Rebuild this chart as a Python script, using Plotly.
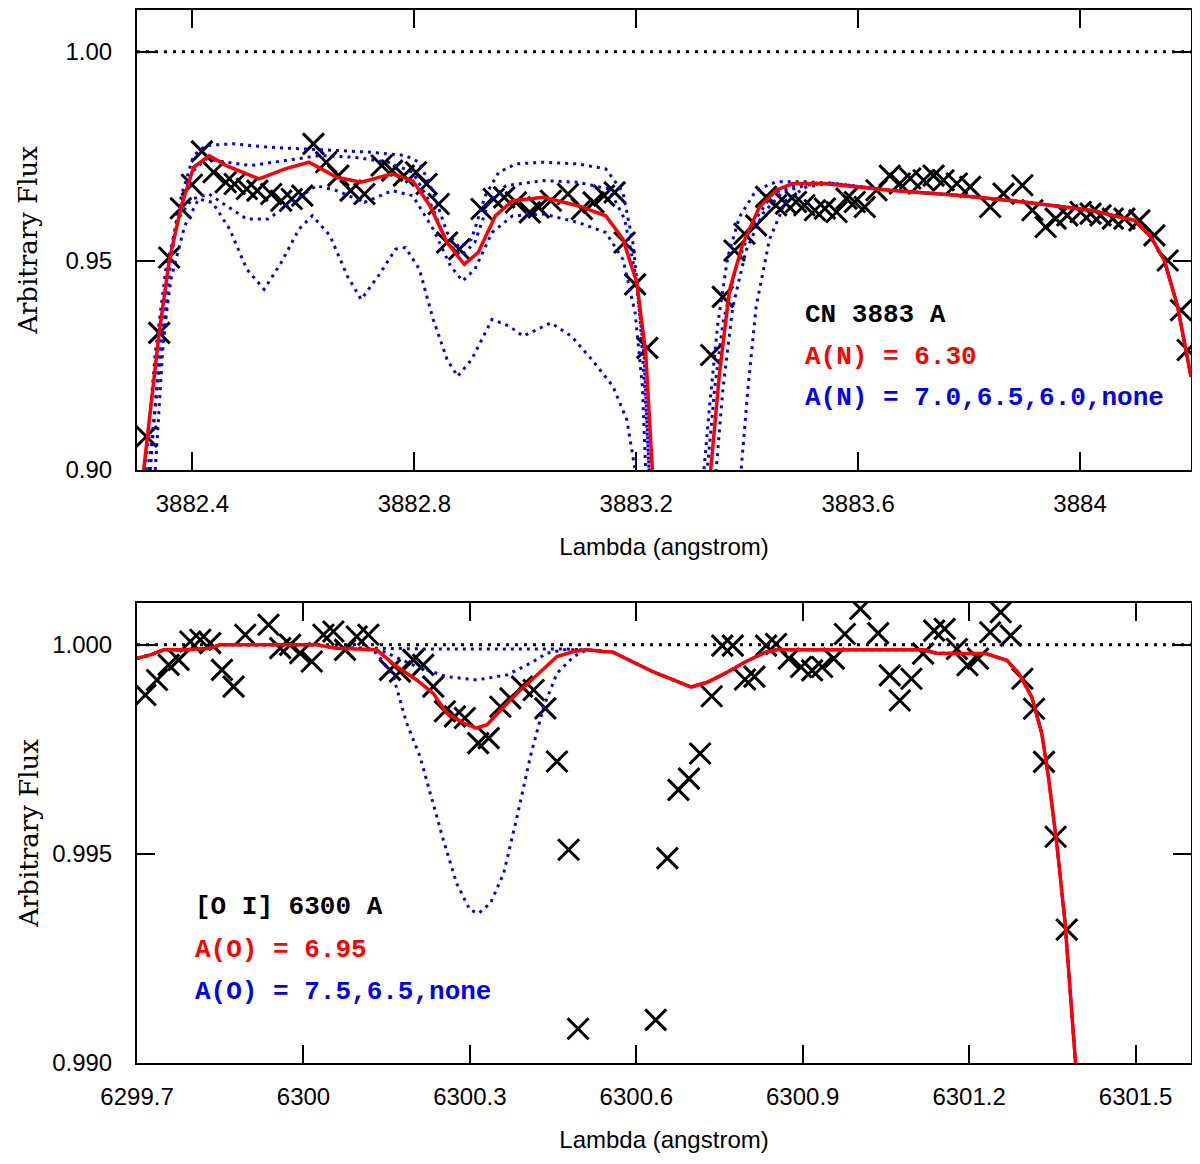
import plotly.graph_objects as go

# ---------------- TOP PANEL (CN 3883 A) ----------------
cn_obs_x = [3882.317, 3882.340, 3882.358, 3882.379, 3882.399, 3882.417, 3882.438, 3882.460, 3882.476,
            3882.498, 3882.517, 3882.542, 3882.560, 3882.579, 3882.598, 3882.618, 3882.641, 3882.663,
            3882.685, 3882.710, 3882.741, 3882.760, 3882.781, 3882.803, 3882.822, 3882.844, 3882.859,
            3882.881, 3882.921, 3882.943, 3882.962, 3882.983, 3883.008, 3883.024, 3883.046, 3883.077,
            3883.102, 3883.123, 3883.142, 3883.161, 3883.179, 3883.198, 3883.220,
            3883.335, 3883.356, 3883.377, 3883.395, 3883.416, 3883.434, 3883.452, 3883.470, 3883.488,
            3883.503, 3883.522, 3883.540, 3883.561, 3883.579, 3883.594, 3883.612, 3883.633, 3883.657,
            3883.675, 3883.694, 3883.718, 3883.736, 3883.754, 3883.778, 3883.802, 3883.838, 3883.862,
            3883.896, 3883.914, 3883.938, 3883.956, 3883.977, 3884.001, 3884.019, 3884.037, 3884.059,
            3884.080, 3884.107, 3884.134, 3884.158, 3884.182, 3884.194]
cn_obs_y = [0.9080, 0.9328, 0.9508, 0.9626, 0.9682, 0.9762, 0.9712, 0.9688, 0.9684,
            0.9672, 0.9668, 0.9660, 0.9644, 0.9648, 0.9656, 0.9780, 0.9736, 0.9704,
            0.9668, 0.9660, 0.9728, 0.9716, 0.9704, 0.9712, 0.9684, 0.9636, 0.9544,
            0.9528, 0.9624, 0.9648, 0.9652, 0.9640, 0.9616, 0.9628, 0.9644, 0.9660,
            0.9624, 0.9640, 0.9656, 0.9664, 0.9544, 0.9444, 0.9292,
            0.9275, 0.9414, 0.9525, 0.9565, 0.9585, 0.9653, 0.9633, 0.9637, 0.9641,
            0.9633, 0.9621, 0.9625, 0.9617, 0.9649, 0.9641, 0.9629, 0.9669, 0.9704,
            0.9685, 0.9697, 0.9693, 0.9704, 0.9693, 0.9685, 0.9677, 0.9629, 0.9661,
            0.9681, 0.9621, 0.9581, 0.9601, 0.9609, 0.9617, 0.9613, 0.9609, 0.9601,
            0.9601, 0.9597, 0.9561, 0.9501, 0.9382, 0.9287]

# best fit A(N)=6.30
cn_fit_x = [3882.312, 3882.340, 3882.358, 3882.380, 3882.402, 3882.430, 3882.461, 3882.520, 3882.567,
            3882.610, 3882.660, 3882.704, 3882.760, 3882.797, 3882.828, 3882.859, 3882.890, 3882.915,
            3882.946, 3882.977, 3883.033, 3883.095, 3883.145, 3883.176, 3883.201, 3883.217, 3883.229,
            3883.260, 3883.300,
            3883.335, 3883.350, 3883.368, 3883.392, 3883.422, 3883.452, 3883.482, 3883.537, 3883.657,
            3883.778, 3883.899, 3884.019, 3884.098, 3884.128, 3884.152, 3884.176, 3884.200]
cn_fit_y = [0.9000, 0.9328, 0.9500, 0.9632, 0.9724, 0.9752, 0.9728, 0.9696, 0.9720,
            0.9736, 0.9700, 0.9688, 0.9708, 0.9692, 0.9632, 0.9544, 0.9492, 0.9520,
            0.9608, 0.9644, 0.9652, 0.9632, 0.9608, 0.9552, 0.9448, 0.9280, 0.9000,
            0.8500, 0.8500,
            0.9000, 0.9231, 0.9430, 0.9541, 0.9629, 0.9669, 0.9685, 0.9685, 0.9669,
            0.9657, 0.9641, 0.9621, 0.9597, 0.9557, 0.9501, 0.9390, 0.9223]

# red-line values shared by all models redward of 3883.55 A
cn_tail_x = [3883.657, 3883.778, 3883.899, 3884.019, 3884.098, 3884.128, 3884.152, 3884.176, 3884.200]
cn_tail_y = [0.9669, 0.9657, 0.9641, 0.9621, 0.9597, 0.9557, 0.9501, 0.9390, 0.9223]

cn_none_x = [3882.333, 3882.346, 3882.361, 3882.380, 3882.402, 3882.424, 3882.473, 3882.536, 3882.598,
             3882.660, 3882.722, 3882.784, 3882.809, 3882.834, 3882.859, 3882.881, 3882.903, 3882.928,
             3882.952, 3882.983, 3883.033, 3883.095, 3883.145, 3883.176, 3883.195, 3883.207, 3883.217,
             3883.223, 3883.260, 3883.300,
             3883.322, 3883.332, 3883.347, 3883.365, 3883.386, 3883.416, 3883.452, 3883.506, 3883.549]
cn_none_y = [0.9000, 0.9280, 0.9504, 0.9656, 0.9752, 0.9776, 0.9780, 0.9772, 0.9768,
             0.9764, 0.9760, 0.9752, 0.9736, 0.9664, 0.9568, 0.9532, 0.9552, 0.9656,
             0.9712, 0.9732, 0.9736, 0.9732, 0.9720, 0.9664, 0.9536, 0.9360, 0.9160,
             0.9000, 0.8500, 0.8500,
             0.9000, 0.9151, 0.9350, 0.9510, 0.9605, 0.9669, 0.9689, 0.9689, 0.9686]

cn_60_x = [3882.324, 3882.340, 3882.355, 3882.374, 3882.399, 3882.424, 3882.461, 3882.505, 3882.567,
           3882.629, 3882.691, 3882.753, 3882.797, 3882.828, 3882.859, 3882.884, 3882.909, 3882.934,
           3882.965, 3883.033, 3883.095, 3883.151, 3883.179, 3883.198, 3883.214, 3883.223,
           3883.260, 3883.300,
           3883.328, 3883.341, 3883.356, 3883.380, 3883.410, 3883.446, 3883.494, 3883.549]
cn_60_y = [0.9000, 0.9280, 0.9480, 0.9616, 0.9712, 0.9744, 0.9736, 0.9728, 0.9740,
           0.9752, 0.9748, 0.9736, 0.9712, 0.9640, 0.9544, 0.9512, 0.9544, 0.9640,
           0.9680, 0.9692, 0.9688, 0.9672, 0.9600, 0.9472, 0.9280, 0.9000,
           0.8500, 0.8500,
           0.9000, 0.9191, 0.9350, 0.9486, 0.9589, 0.9661, 0.9685, 0.9686]

cn_65_x = [3882.315, 3882.333, 3882.352, 3882.374, 3882.399, 3882.430, 3882.461, 3882.498, 3882.536,
           3882.579, 3882.623, 3882.660, 3882.710, 3882.760, 3882.797, 3882.834, 3882.865, 3882.887,
           3882.909, 3882.940, 3882.977, 3883.033, 3883.095, 3883.145, 3883.176, 3883.198, 3883.211,
           3883.217, 3883.260, 3883.300,
           3883.344, 3883.356, 3883.374, 3883.398, 3883.428, 3883.464, 3883.506, 3883.549]
cn_65_y = [0.9000, 0.9280, 0.9480, 0.9600, 0.9648, 0.9660, 0.9632, 0.9600, 0.9600,
           0.9640, 0.9680, 0.9668, 0.9640, 0.9668, 0.9656, 0.9576, 0.9488, 0.9452,
           0.9480, 0.9568, 0.9608, 0.9612, 0.9592, 0.9568, 0.9504, 0.9376, 0.9200,
           0.9000, 0.8500, 0.8500,
           0.9000, 0.9191, 0.9390, 0.9525, 0.9613, 0.9665, 0.9681, 0.9686]

cn_70_x = [3882.321, 3882.340, 3882.361, 3882.386, 3882.411, 3882.436, 3882.467, 3882.498, 3882.529,
           3882.560, 3882.592, 3882.616, 3882.648, 3882.679, 3882.704, 3882.735, 3882.766, 3882.784,
           3882.809, 3882.834, 3882.859, 3882.878, 3882.903, 3882.940, 3882.971, 3882.996, 3883.046,
           3883.083, 3883.120, 3883.158, 3883.183, 3883.198, 3883.260, 3883.320,
           3883.389, 3883.401, 3883.416, 3883.440, 3883.470, 3883.506, 3883.549]
cn_70_y = [0.9000, 0.9240, 0.9456, 0.9584, 0.9648, 0.9640, 0.9576, 0.9480, 0.9432,
           0.9496, 0.9576, 0.9608, 0.9560, 0.9464, 0.9408, 0.9464, 0.9528, 0.9532,
           0.9480, 0.9360, 0.9264, 0.9224, 0.9264, 0.9360, 0.9344, 0.9320, 0.9352,
           0.9320, 0.9264, 0.9200, 0.9120, 0.9000, 0.8500, 0.8500,
           0.9000, 0.9191, 0.9390, 0.9551, 0.9645, 0.9677, 0.9686]

# ---------------- BOTTOM PANEL ([O I] 6300 A) ----------------
oi_obs_x = [6299.715, 6299.736, 6299.757, 6299.775, 6299.796, 6299.814, 6299.832, 6299.853, 6299.874,
            6299.895, 6299.937, 6299.958, 6299.976, 6299.994, 6300.015, 6300.036, 6300.054, 6300.075,
            6300.096, 6300.117, 6300.156, 6300.174, 6300.198, 6300.216, 6300.234, 6300.255, 6300.273,
            6300.291, 6300.315, 6300.334, 6300.355, 6300.373, 6300.394, 6300.415, 6300.436, 6300.457,
            6300.478, 6300.495, 6300.635, 6300.656, 6300.676, 6300.695, 6300.715, 6300.736, 6300.755,
            6300.774, 6300.796, 6300.813, 6300.834, 6300.852, 6300.875, 6300.897, 6300.917, 6300.935,
            6300.956, 6300.976, 6301.004, 6301.036, 6301.057, 6301.075, 6301.096, 6301.117, 6301.137,
            6301.156, 6301.178, 6301.197, 6301.216, 6301.238, 6301.257, 6301.275, 6301.296, 6301.317,
            6301.335, 6301.356, 6301.376]
oi_obs_y = [0.99880, 0.99916, 0.99952, 0.99964, 1.00008, 1.00012, 1.00004, 0.99940, 0.99900,
            1.00024, 1.00048, 0.99992, 1.00000, 0.99980, 0.99960, 1.00024, 1.00032, 0.99988,
            1.00020, 1.00024, 0.99940, 0.99936, 0.99964, 0.99952, 0.99900, 0.99841, 0.99829,
            0.99825, 0.99765, 0.99777, 0.99852, 0.99872, 0.99900, 0.99892, 0.99848, 0.99721,
            0.99510, 0.99082, 0.99103, 0.99490, 0.99653, 0.99680, 0.99740, 0.99877, 0.99998,
            0.99998, 0.99917, 0.99924, 0.99998, 1.00002, 0.99967, 0.99947, 0.99939, 0.99947,
            0.99967, 1.00026, 1.00086, 1.00028, 0.99927, 0.99867, 0.99919, 0.99979, 1.00034,
            1.00038, 0.99990, 0.99951, 0.99967, 1.00030, 1.00078, 1.00022, 0.99919, 0.99847,
            0.99720, 0.99541, 0.99319]

# red-line values shared by all models outside the [O I] line
oi_head_x = [6299.700, 6299.724, 6299.748, 6299.784, 6299.832, 6299.850, 6300.024, 6300.060]
oi_head_y = [0.99968, 0.99976, 0.99988, 0.99988, 0.99992, 1.00000, 1.00000, 0.99992]
oi_tail_x = [6300.511, 6300.541, 6300.557, 6300.594, 6300.631, 6300.669, 6300.699, 6300.729, 6300.759,
             6300.796, 6300.834, 6300.852, 6300.968, 6301.118, 6301.141, 6301.230, 6301.268, 6301.290,
             6301.313, 6301.331, 6301.343, 6301.358, 6301.373, 6301.389, 6301.420]
oi_tail_y = [0.99988, 0.99984, 0.99983, 0.99959, 0.99935, 0.99915, 0.99899, 0.99911, 0.99931,
             0.99959, 0.99983, 0.99988, 0.99988, 0.99988, 0.99980, 0.99979, 0.99963, 0.99931,
             0.99875, 0.99788, 0.99684, 0.99525, 0.99335, 0.99009, 0.98500]

# best fit A(O)=6.95 : line core
oi_fit_x = [6300.132, 6300.168, 6300.204, 6300.234, 6300.258, 6300.288, 6300.312, 6300.331, 6300.361,
            6300.391, 6300.421, 6300.457, 6300.487]
oi_fit_y = [0.99988, 0.99948, 0.99916, 0.99884, 0.99837, 0.99813, 0.99801, 0.99809, 0.99852,
            0.99892, 0.99928, 0.99972, 0.99984]

oi_75_x = [6300.108, 6300.132, 6300.162, 6300.186, 6300.210, 6300.228, 6300.252, 6300.276, 6300.300,
           6300.316, 6300.337, 6300.361, 6300.385, 6300.409, 6300.433, 6300.457, 6300.487]
oi_75_y = [0.99992, 0.99980, 0.99924, 0.99813, 0.99733, 0.99645, 0.99534, 0.99430, 0.99366,
           0.99358, 0.99382, 0.99454, 0.99589, 0.99733, 0.99852, 0.99932, 0.99972]

oi_65_x = [6300.108, 6300.144, 6300.204, 6300.258, 6300.312, 6300.367, 6300.409, 6300.439, 6300.469]
oi_65_y = [0.99992, 0.99984, 0.99948, 0.99924, 0.99916, 0.99928, 0.99956, 0.99980, 0.99988]

oi_none_x = [6300.120, 6300.228, 6300.349, 6300.469]
oi_none_y = [0.99992, 0.99990, 0.99990, 0.99990]

# tick labels
top_tickvals = [3882.4, 3882.8, 3883.2, 3883.6, 3884.0]
top_ticktext = ["3882.4", "3882.8", "3883.2", "3883.6", "3884"]
bot_tickvals = [6299.7, 6300.0, 6300.3, 6300.6, 6300.9, 6301.2, 6301.5]
bot_ticktext = ["6299.7", "6300", "6300.3", "6300.6", "6300.9", "6301.2", "6301.5"]
top_ytickvals = [0.90, 0.95, 1.00]
bot_ytickvals = [0.990, 0.995, 1.000]

RED = "#ff0000"
BLUE = "#0000ee"
BLUE_DASH = "3px,5px"

fig = go.Figure()


def add_obs(x, y, xa, ya):
    fig.add_trace(go.Scatter(x=x, y=y, mode="markers", xaxis=xa, yaxis=ya,
                             marker=dict(symbol="x-thin", size=21,
                                         line=dict(width=3, color="black")),
                             hoverinfo="skip"))


def add_line(x, y, xa, ya, color, dash, width):
    fig.add_trace(go.Scatter(x=x, y=y, mode="lines", xaxis=xa, yaxis=ya,
                             line=dict(color=color, width=width, dash=dash),
                             hoverinfo="skip"))


# top panel
add_obs(cn_obs_x, cn_obs_y, "x", "y")
for bx, by in [(cn_none_x, cn_none_y), (cn_60_x, cn_60_y), (cn_65_x, cn_65_y), (cn_70_x, cn_70_y)]:
    add_line(bx + cn_tail_x, by + cn_tail_y, "x", "y", BLUE, BLUE_DASH, 3)
add_line(cn_fit_x, cn_fit_y, "x", "y", RED, "solid", 3.5)

# bottom panel
add_obs(oi_obs_x, oi_obs_y, "x2", "y2")
for bx, by in [(oi_none_x, oi_none_y), (oi_65_x, oi_65_y), (oi_75_x, oi_75_y)]:
    add_line(oi_head_x + bx + oi_tail_x, oi_head_y + by + oi_tail_y, "x2", "y2", BLUE, BLUE_DASH, 3)
add_line(oi_head_x + oi_fit_x + oi_tail_x, oi_head_y + oi_fit_y + oi_tail_y, "x2", "y2", RED, "solid", 3.5)

# the page body has an 8px margin, so the figure is sized and placed to compensate
OFF = 8
W, H = 1200 - OFF, 1164 - OFF
xdom = [(137 - OFF) / W, (1191 - OFF) / W]
top_dom = [1 - (470 - OFF) / H, 1 - (10 - OFF) / H]
bot_dom = [1 - (1063 - OFF) / H, 1 - (603 - OFF) / H]

tickfont = dict(family="Liberation Sans, Arial, sans-serif", size=24, color="black")
titlefont = dict(family="Liberation Sans, Arial, sans-serif", size=24, color="black")
ytitlefont = dict(family="DejaVu Serif, serif", size=26, color="black")

axis_common = dict(showline=True, linecolor="black", linewidth=2, mirror="ticks",
                   ticks="inside", ticklen=18, tickwidth=2, tickcolor="black",
                   showgrid=False, zeroline=False, tickfont=tickfont, automargin=False)

fig.update_layout(
    width=W, height=H, showlegend=False,
    paper_bgcolor="white", plot_bgcolor="white",
    margin=dict(l=0, r=0, t=0, b=0),
    xaxis=dict(domain=xdom, anchor="y", range=[3882.3, 3884.2],
               tickvals=top_tickvals, ticktext=top_ticktext, ticklabelstandoff=11,
               title=dict(text="Lambda (angstrom)", font=titlefont, standoff=22),
               **axis_common),
    yaxis=dict(domain=top_dom, anchor="x", range=[0.90, 1.01],
               tickvals=top_ytickvals, tickformat=".2f", ticklabelstandoff=18,
               title=dict(text="Arbitrary Flux", font=ytitlefont, standoff=20),
               **axis_common),
    xaxis2=dict(domain=xdom, anchor="y2", range=[6299.6999, 6301.6],
                tickvals=bot_tickvals, ticktext=bot_ticktext, ticklabelstandoff=11,
                title=dict(text="Lambda (angstrom)", font=titlefont, standoff=22),
                **axis_common),
    yaxis2=dict(domain=bot_dom, anchor="x2", range=[0.990, 1.001],
                tickvals=bot_ytickvals, tickformat=".3f", ticklabelstandoff=18,
                title=dict(text="Arbitrary Flux", font=ytitlefont, standoff=6),
                **axis_common),
)

# continuum reference lines
for xr, yr in [("x domain", "y"), ("x2 domain", "y2")]:
    fig.add_shape(type="line", xref=xr, yref=yr, x0=0, x1=1, y0=1.0, y1=1.0,
                  line=dict(color="black", width=3, dash="3px,6px"), layer="below")

monofont = "Liberation Mono, Courier New, monospace"
labels = [
    ("x domain", "y domain", 0.632, 0.337, "<b>CN 3883 A</b>", "black"),
    ("x domain", "y domain", 0.632, 0.246, "<b>A(N) = 6.30</b>", RED),
    ("x domain", "y domain", 0.632, 0.156, "<b>A(N) = 7.0,6.5,6.0,none</b>", BLUE),
    ("x2 domain", "y2 domain", 0.053, 0.339, "<b>[O I] 6300 A</b>", "black"),
    ("x2 domain", "y2 domain", 0.053, 0.246, "<b>A(O) = 6.95</b>", RED),
    ("x2 domain", "y2 domain", 0.053, 0.154, "<b>A(O) = 7.5,6.5,none</b>", BLUE),
]
for xr, yr, ax, ay, txt, col in labels:
    fig.add_annotation(xref=xr, yref=yr, x=ax, y=ay, text=txt, showarrow=False,
                       xanchor="left", yanchor="middle",
                       font=dict(family=monofont, size=26, color=col))

fig.write_html("out.html")
